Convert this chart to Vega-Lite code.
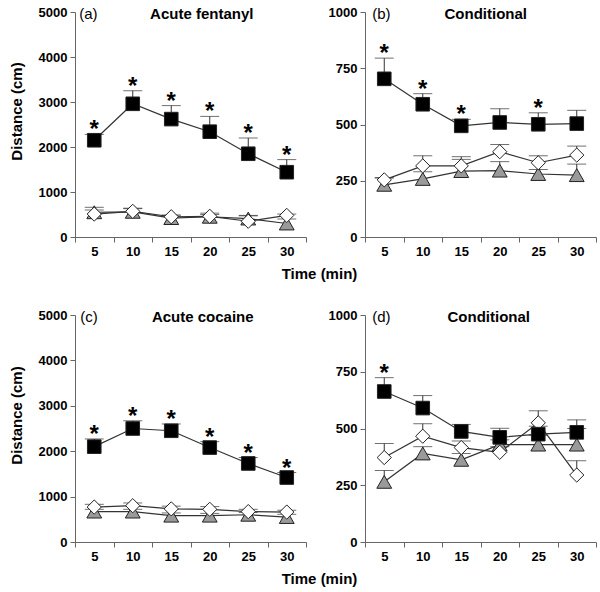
{
  "$schema": "https://vega.github.io/schema/vega-lite/v6.json",
  "padding": {"left": 9, "top": 6, "right": 5, "bottom": 5},
  "background": "#ffffff",
  "datasets": {
    "d": [
      {"p": "a", "t": 5, "g": "tr", "v": 550, "e": 600, "s": 0},
      {"p": "a", "t": 10, "g": "tr", "v": 560, "e": 630, "s": 0},
      {"p": "a", "t": 15, "g": "tr", "v": 420, "e": 470, "s": 0},
      {"p": "a", "t": 20, "g": "tr", "v": 450, "e": 500, "s": 0},
      {"p": "a", "t": 25, "g": "tr", "v": 410, "e": 470, "s": 0},
      {"p": "a", "t": 30, "g": "tr", "v": 300, "e": 400, "s": 0},
      {"p": "a", "t": 5, "g": "di", "v": 510, "e": 660, "s": 0},
      {"p": "a", "t": 10, "g": "di", "v": 570, "e": 640, "s": 0},
      {"p": "a", "t": 15, "g": "di", "v": 450, "e": 490, "s": 0},
      {"p": "a", "t": 20, "g": "di", "v": 460, "e": 530, "s": 0},
      {"p": "a", "t": 25, "g": "di", "v": 350, "e": 480, "s": 0},
      {"p": "a", "t": 30, "g": "di", "v": 480, "e": 510, "s": 0},
      {"p": "a", "t": 5, "g": "sq", "v": 2150, "e": 2280, "s": 1},
      {"p": "a", "t": 10, "g": "sq", "v": 2960, "e": 3250, "s": 1},
      {"p": "a", "t": 15, "g": "sq", "v": 2620, "e": 2920, "s": 1},
      {"p": "a", "t": 20, "g": "sq", "v": 2340, "e": 2680, "s": 1},
      {"p": "a", "t": 25, "g": "sq", "v": 1850, "e": 2200, "s": 1},
      {"p": "a", "t": 30, "g": "sq", "v": 1440, "e": 1720, "s": 1},

      {"p": "b", "t": 5, "g": "tr", "v": 232, "e": 262, "s": 0},
      {"p": "b", "t": 10, "g": "tr", "v": 258, "e": 290, "s": 0},
      {"p": "b", "t": 15, "g": "tr", "v": 293, "e": 345, "s": 0},
      {"p": "b", "t": 20, "g": "tr", "v": 295, "e": 335, "s": 0},
      {"p": "b", "t": 25, "g": "tr", "v": 280, "e": 300, "s": 0},
      {"p": "b", "t": 30, "g": "tr", "v": 275, "e": 324, "s": 0},
      {"p": "b", "t": 5, "g": "di", "v": 254, "e": 264, "s": 0},
      {"p": "b", "t": 10, "g": "di", "v": 316, "e": 361, "s": 0},
      {"p": "b", "t": 15, "g": "di", "v": 316, "e": 357, "s": 0},
      {"p": "b", "t": 20, "g": "di", "v": 379, "e": 411, "s": 0},
      {"p": "b", "t": 25, "g": "di", "v": 330, "e": 361, "s": 0},
      {"p": "b", "t": 30, "g": "di", "v": 364, "e": 404, "s": 0},
      {"p": "b", "t": 5, "g": "sq", "v": 703, "e": 795, "s": 1},
      {"p": "b", "t": 10, "g": "sq", "v": 590, "e": 637, "s": 1},
      {"p": "b", "t": 15, "g": "sq", "v": 494, "e": 523, "s": 1},
      {"p": "b", "t": 20, "g": "sq", "v": 509, "e": 570, "s": 0},
      {"p": "b", "t": 25, "g": "sq", "v": 501, "e": 552, "s": 1},
      {"p": "b", "t": 30, "g": "sq", "v": 504, "e": 563, "s": 0},

      {"p": "c", "t": 5, "g": "tr", "v": 670, "e": 720, "s": 0},
      {"p": "c", "t": 10, "g": "tr", "v": 670, "e": 720, "s": 0},
      {"p": "c", "t": 15, "g": "tr", "v": 580, "e": 640, "s": 0},
      {"p": "c", "t": 20, "g": "tr", "v": 580, "e": 630, "s": 0},
      {"p": "c", "t": 25, "g": "tr", "v": 600, "e": 650, "s": 0},
      {"p": "c", "t": 30, "g": "tr", "v": 550, "e": 610, "s": 0},
      {"p": "c", "t": 5, "g": "di", "v": 770, "e": 830, "s": 0},
      {"p": "c", "t": 10, "g": "di", "v": 800, "e": 860, "s": 0},
      {"p": "c", "t": 15, "g": "di", "v": 730, "e": 790, "s": 0},
      {"p": "c", "t": 20, "g": "di", "v": 720, "e": 780, "s": 0},
      {"p": "c", "t": 25, "g": "di", "v": 670, "e": 720, "s": 0},
      {"p": "c", "t": 30, "g": "di", "v": 660, "e": 700, "s": 0},
      {"p": "c", "t": 5, "g": "sq", "v": 2100, "e": 2270, "s": 1},
      {"p": "c", "t": 10, "g": "sq", "v": 2500, "e": 2670, "s": 1},
      {"p": "c", "t": 15, "g": "sq", "v": 2450, "e": 2600, "s": 1},
      {"p": "c", "t": 20, "g": "sq", "v": 2080, "e": 2210, "s": 1},
      {"p": "c", "t": 25, "g": "sq", "v": 1730, "e": 1860, "s": 1},
      {"p": "c", "t": 30, "g": "sq", "v": 1420, "e": 1530, "s": 1},

      {"p": "d", "t": 5, "g": "tr", "v": 265, "e": 315, "s": 0},
      {"p": "d", "t": 10, "g": "tr", "v": 390, "e": 420, "s": 0},
      {"p": "d", "t": 15, "g": "tr", "v": 362, "e": 390, "s": 0},
      {"p": "d", "t": 20, "g": "tr", "v": 429, "e": 450, "s": 0},
      {"p": "d", "t": 25, "g": "tr", "v": 429, "e": 470, "s": 0},
      {"p": "d", "t": 30, "g": "tr", "v": 429, "e": 500, "s": 0},
      {"p": "d", "t": 5, "g": "di", "v": 372, "e": 434, "s": 0},
      {"p": "d", "t": 10, "g": "di", "v": 466, "e": 521, "s": 0},
      {"p": "d", "t": 15, "g": "di", "v": 416, "e": 445, "s": 0},
      {"p": "d", "t": 20, "g": "di", "v": 395, "e": 420, "s": 0},
      {"p": "d", "t": 25, "g": "di", "v": 525, "e": 578, "s": 0},
      {"p": "d", "t": 30, "g": "di", "v": 295, "e": 358, "s": 0},
      {"p": "d", "t": 5, "g": "sq", "v": 663, "e": 724, "s": 1},
      {"p": "d", "t": 10, "g": "sq", "v": 590, "e": 645, "s": 0},
      {"p": "d", "t": 15, "g": "sq", "v": 487, "e": 518, "s": 0},
      {"p": "d", "t": 20, "g": "sq", "v": 461, "e": 501, "s": 0},
      {"p": "d", "t": 25, "g": "sq", "v": 475, "e": 510, "s": 0},
      {"p": "d", "t": 30, "g": "sq", "v": 483, "e": 538, "s": 0}
    ],
    "lab": [
      {"p": "a", "k": "l", "t": 5, "v": 5000, "txt": "(a)"},
      {"p": "a", "k": "h", "t": 20, "v": 5000, "txt": "Acute fentanyl"},
      {"p": "b", "k": "l", "t": 5, "v": 1000, "txt": "(b)"},
      {"p": "b", "k": "h", "t": 20, "v": 1000, "txt": "Conditional"},
      {"p": "c", "k": "l", "t": 5, "v": 5000, "txt": "(c)"},
      {"p": "c", "k": "h", "t": 20, "v": 5000, "txt": "Acute cocaine"},
      {"p": "d", "k": "l", "t": 5, "v": 1000, "txt": "(d)"},
      {"p": "d", "k": "h", "t": 20, "v": 1000, "txt": "Conditional"}
    ]
  },
  "columns": 2,
  "spacing": {"row": 78, "column": 59},
  "bounds": "flush",
  "concat": [
    {
      "width": 231, "height": 225,
      "layer": [
        {"data": {"name": "d"}, "transform": [{"filter": "datum.p == 'a'"}],
         "mark": {"type": "line", "color": "#333", "strokeWidth": 1.2},
         "encoding": {
           "x": {"field": "t", "type": "ordinal", "scale": {"type": "band", "paddingInner": 0, "paddingOuter": 0},
                 "axis": {"title": "Time (min)", "titleX": 244, "titleY": 36, "titleAlign": "center", "titleBaseline": "middle", "labelAngle": 0, "tickBand": "extent"}},
           "y": {"field": "v", "type": "quantitative", "scale": {"domain": [0, 5000], "nice": false},
                 "axis": {"title": "Distance (cm)", "values": [0, 1000, 2000, 3000, 4000, 5000], "format": "d", "titlePadding": 14, "titleY": 99}},
           "detail": {"field": "g"}}},
        {"data": {"name": "d"}, "transform": [{"filter": "datum.p == 'a'"}],
         "mark": {"type": "rule", "color": "#333", "strokeWidth": 1},
         "encoding": {"x": {"field": "t", "type": "ordinal"}, "y": {"field": "v", "type": "quantitative"}, "y2": {"field": "e"}}},
        {"data": {"name": "d"}, "transform": [{"filter": "datum.p == 'a'"}],
         "mark": {"type": "tick", "color": "#333", "size": 19, "thickness": 1},
         "encoding": {"x": {"field": "t", "type": "ordinal"}, "y": {"field": "e", "type": "quantitative"}}},
        {"data": {"name": "d"}, "transform": [{"filter": "datum.p == 'a'"}],
         "mark": {"type": "point", "filled": true, "stroke": "#222", "strokeWidth": 1, "opacity": 1},
         "encoding": {"x": {"field": "t", "type": "ordinal"}, "y": {"field": "v", "type": "quantitative"},
           "shape": {"field": "g", "type": "nominal", "scale": {"domain": ["tr", "di", "sq"], "range": ["triangle-up", "diamond", "square"]}, "legend": null},
           "fill": {"field": "g", "type": "nominal", "scale": {"domain": ["tr", "di", "sq"], "range": ["#9a9a9a", "#ffffff", "#000000"]}, "legend": null},
           "size": {"field": "g", "type": "ordinal", "scale": {"domain": ["tr", "di", "sq"], "range": [220, 185, 190]}, "legend": null}}},
        {"data": {"name": "d"}, "transform": [{"filter": "datum.p == 'a' && datum.s == 1"}],
         "mark": {"type": "text", "text": "*", "fontSize": 24, "fontWeight": "bold", "font": "Liberation Sans", "baseline": "alphabetic", "dy": 3},
         "encoding": {"x": {"field": "t", "type": "ordinal"}, "y": {"field": "e", "type": "quantitative"}}},
        {"data": {"name": "lab"}, "transform": [{"filter": "datum.p == 'a' && datum.k == 'l'"}],
         "mark": {"type": "text", "fontSize": 15, "font": "Liberation Sans", "align": "left", "baseline": "middle", "dx": -15, "dy": 2},
         "encoding": {"x": {"field": "t", "type": "ordinal"}, "y": {"field": "v", "type": "quantitative"}, "text": {"field": "txt"}}},
        {"data": {"name": "lab"}, "transform": [{"filter": "datum.p == 'a' && datum.k == 'h'"}],
         "mark": {"type": "text", "fontSize": 15, "fontWeight": "bold", "font": "Liberation Sans", "align": "center", "baseline": "middle", "dx": -8, "dy": 2},
         "encoding": {"x": {"field": "t", "type": "ordinal"}, "y": {"field": "v", "type": "quantitative"}, "text": {"field": "txt"}}}
      ]
    },
    {
      "width": 231, "height": 225,
      "layer": [
        {"data": {"name": "d"}, "transform": [{"filter": "datum.p == 'b'"}],
         "mark": {"type": "line", "color": "#333", "strokeWidth": 1.2},
         "encoding": {
           "x": {"field": "t", "type": "ordinal", "scale": {"type": "band", "paddingInner": 0, "paddingOuter": 0},
                 "axis": {"title": null, "labelAngle": 0, "tickBand": "extent"}},
           "y": {"field": "v", "type": "quantitative", "scale": {"domain": [0, 1000], "nice": false},
                 "axis": {"title": null, "values": [0, 250, 500, 750, 1000], "format": "d"}},
           "detail": {"field": "g"}}},
        {"data": {"name": "d"}, "transform": [{"filter": "datum.p == 'b'"}],
         "mark": {"type": "rule", "color": "#333", "strokeWidth": 1},
         "encoding": {"x": {"field": "t", "type": "ordinal"}, "y": {"field": "v", "type": "quantitative"}, "y2": {"field": "e"}}},
        {"data": {"name": "d"}, "transform": [{"filter": "datum.p == 'b'"}],
         "mark": {"type": "tick", "color": "#333", "size": 19, "thickness": 1},
         "encoding": {"x": {"field": "t", "type": "ordinal"}, "y": {"field": "e", "type": "quantitative"}}},
        {"data": {"name": "d"}, "transform": [{"filter": "datum.p == 'b'"}],
         "mark": {"type": "point", "filled": true, "stroke": "#222", "strokeWidth": 1, "opacity": 1},
         "encoding": {"x": {"field": "t", "type": "ordinal"}, "y": {"field": "v", "type": "quantitative"},
           "shape": {"field": "g", "type": "nominal", "scale": {"domain": ["tr", "di", "sq"], "range": ["triangle-up", "diamond", "square"]}, "legend": null},
           "fill": {"field": "g", "type": "nominal", "scale": {"domain": ["tr", "di", "sq"], "range": ["#9a9a9a", "#ffffff", "#000000"]}, "legend": null},
           "size": {"field": "g", "type": "ordinal", "scale": {"domain": ["tr", "di", "sq"], "range": [220, 185, 190]}, "legend": null}}},
        {"data": {"name": "d"}, "transform": [{"filter": "datum.p == 'b' && datum.s == 1"}],
         "mark": {"type": "text", "text": "*", "fontSize": 24, "fontWeight": "bold", "font": "Liberation Sans", "baseline": "alphabetic", "dy": 3},
         "encoding": {"x": {"field": "t", "type": "ordinal"}, "y": {"field": "e", "type": "quantitative"}}},
        {"data": {"name": "lab"}, "transform": [{"filter": "datum.p == 'b' && datum.k == 'l'"}],
         "mark": {"type": "text", "fontSize": 15, "font": "Liberation Sans", "align": "left", "baseline": "middle", "dx": -12, "dy": 2},
         "encoding": {"x": {"field": "t", "type": "ordinal"}, "y": {"field": "v", "type": "quantitative"}, "text": {"field": "txt"}}},
        {"data": {"name": "lab"}, "transform": [{"filter": "datum.p == 'b' && datum.k == 'h'"}],
         "mark": {"type": "text", "fontSize": 15, "fontWeight": "bold", "font": "Liberation Sans", "align": "center", "baseline": "middle", "dx": -14, "dy": 2},
         "encoding": {"x": {"field": "t", "type": "ordinal"}, "y": {"field": "v", "type": "quantitative"}, "text": {"field": "txt"}}}
      ]
    },
    {
      "width": 231, "height": 227,
      "layer": [
        {"data": {"name": "d"}, "transform": [{"filter": "datum.p == 'c'"}],
         "mark": {"type": "line", "color": "#333", "strokeWidth": 1.2},
         "encoding": {
           "x": {"field": "t", "type": "ordinal", "scale": {"type": "band", "paddingInner": 0, "paddingOuter": 0},
                 "axis": {"title": "Time (min)", "titleX": 244, "titleY": 36, "titleAlign": "center", "titleBaseline": "middle", "labelAngle": 0, "tickBand": "extent"}},
           "y": {"field": "v", "type": "quantitative", "scale": {"domain": [0, 5000], "nice": false},
                 "axis": {"title": "Distance (cm)", "values": [0, 1000, 2000, 3000, 4000, 5000], "format": "d", "titlePadding": 14, "titleY": 100}},
           "detail": {"field": "g"}}},
        {"data": {"name": "d"}, "transform": [{"filter": "datum.p == 'c'"}],
         "mark": {"type": "rule", "color": "#333", "strokeWidth": 1},
         "encoding": {"x": {"field": "t", "type": "ordinal"}, "y": {"field": "v", "type": "quantitative"}, "y2": {"field": "e"}}},
        {"data": {"name": "d"}, "transform": [{"filter": "datum.p == 'c'"}],
         "mark": {"type": "tick", "color": "#333", "size": 19, "thickness": 1},
         "encoding": {"x": {"field": "t", "type": "ordinal"}, "y": {"field": "e", "type": "quantitative"}}},
        {"data": {"name": "d"}, "transform": [{"filter": "datum.p == 'c'"}],
         "mark": {"type": "point", "filled": true, "stroke": "#222", "strokeWidth": 1, "opacity": 1},
         "encoding": {"x": {"field": "t", "type": "ordinal"}, "y": {"field": "v", "type": "quantitative"},
           "shape": {"field": "g", "type": "nominal", "scale": {"domain": ["tr", "di", "sq"], "range": ["triangle-up", "diamond", "square"]}, "legend": null},
           "fill": {"field": "g", "type": "nominal", "scale": {"domain": ["tr", "di", "sq"], "range": ["#9a9a9a", "#ffffff", "#000000"]}, "legend": null},
           "size": {"field": "g", "type": "ordinal", "scale": {"domain": ["tr", "di", "sq"], "range": [220, 185, 190]}, "legend": null}}},
        {"data": {"name": "d"}, "transform": [{"filter": "datum.p == 'c' && datum.s == 1"}],
         "mark": {"type": "text", "text": "*", "fontSize": 24, "fontWeight": "bold", "font": "Liberation Sans", "baseline": "alphabetic", "dy": 3},
         "encoding": {"x": {"field": "t", "type": "ordinal"}, "y": {"field": "e", "type": "quantitative"}}},
        {"data": {"name": "lab"}, "transform": [{"filter": "datum.p == 'c' && datum.k == 'l'"}],
         "mark": {"type": "text", "fontSize": 15, "font": "Liberation Sans", "align": "left", "baseline": "middle", "dx": -14, "dy": 2},
         "encoding": {"x": {"field": "t", "type": "ordinal"}, "y": {"field": "v", "type": "quantitative"}, "text": {"field": "txt"}}},
        {"data": {"name": "lab"}, "transform": [{"filter": "datum.p == 'c' && datum.k == 'h'"}],
         "mark": {"type": "text", "fontSize": 15, "fontWeight": "bold", "font": "Liberation Sans", "align": "center", "baseline": "middle", "dx": -7, "dy": 2},
         "encoding": {"x": {"field": "t", "type": "ordinal"}, "y": {"field": "v", "type": "quantitative"}, "text": {"field": "txt"}}}
      ]
    },
    {
      "width": 231, "height": 227,
      "layer": [
        {"data": {"name": "d"}, "transform": [{"filter": "datum.p == 'd'"}],
         "mark": {"type": "line", "color": "#333", "strokeWidth": 1.2},
         "encoding": {
           "x": {"field": "t", "type": "ordinal", "scale": {"type": "band", "paddingInner": 0, "paddingOuter": 0},
                 "axis": {"title": null, "labelAngle": 0, "tickBand": "extent"}},
           "y": {"field": "v", "type": "quantitative", "scale": {"domain": [0, 1000], "nice": false},
                 "axis": {"title": null, "values": [0, 250, 500, 750, 1000], "format": "d"}},
           "detail": {"field": "g"}}},
        {"data": {"name": "d"}, "transform": [{"filter": "datum.p == 'd'"}],
         "mark": {"type": "rule", "color": "#333", "strokeWidth": 1},
         "encoding": {"x": {"field": "t", "type": "ordinal"}, "y": {"field": "v", "type": "quantitative"}, "y2": {"field": "e"}}},
        {"data": {"name": "d"}, "transform": [{"filter": "datum.p == 'd'"}],
         "mark": {"type": "tick", "color": "#333", "size": 19, "thickness": 1},
         "encoding": {"x": {"field": "t", "type": "ordinal"}, "y": {"field": "e", "type": "quantitative"}}},
        {"data": {"name": "d"}, "transform": [{"filter": "datum.p == 'd'"}],
         "mark": {"type": "point", "filled": true, "stroke": "#222", "strokeWidth": 1, "opacity": 1},
         "encoding": {"x": {"field": "t", "type": "ordinal"}, "y": {"field": "v", "type": "quantitative"},
           "shape": {"field": "g", "type": "nominal", "scale": {"domain": ["tr", "di", "sq"], "range": ["triangle-up", "diamond", "square"]}, "legend": null},
           "fill": {"field": "g", "type": "nominal", "scale": {"domain": ["tr", "di", "sq"], "range": ["#9a9a9a", "#ffffff", "#000000"]}, "legend": null},
           "size": {"field": "g", "type": "ordinal", "scale": {"domain": ["tr", "di", "sq"], "range": [220, 185, 190]}, "legend": null}}},
        {"data": {"name": "d"}, "transform": [{"filter": "datum.p == 'd' && datum.s == 1"}],
         "mark": {"type": "text", "text": "*", "fontSize": 24, "fontWeight": "bold", "font": "Liberation Sans", "baseline": "alphabetic", "dy": 3},
         "encoding": {"x": {"field": "t", "type": "ordinal"}, "y": {"field": "e", "type": "quantitative"}}},
        {"data": {"name": "lab"}, "transform": [{"filter": "datum.p == 'd' && datum.k == 'l'"}],
         "mark": {"type": "text", "fontSize": 15, "font": "Liberation Sans", "align": "left", "baseline": "middle", "dx": -12, "dy": 2},
         "encoding": {"x": {"field": "t", "type": "ordinal"}, "y": {"field": "v", "type": "quantitative"}, "text": {"field": "txt"}}},
        {"data": {"name": "lab"}, "transform": [{"filter": "datum.p == 'd' && datum.k == 'h'"}],
         "mark": {"type": "text", "fontSize": 15, "fontWeight": "bold", "font": "Liberation Sans", "align": "center", "baseline": "middle", "dx": -11, "dy": 2},
         "encoding": {"x": {"field": "t", "type": "ordinal"}, "y": {"field": "v", "type": "quantitative"}, "text": {"field": "txt"}}}
      ]
    }
  ],
  "config": {
    "view": {"stroke": null},
    "axis": {
      "grid": false,
      "domainColor": "#666",
      "tickColor": "#666",
      "labelFont": "Liberation Sans",
      "labelFontWeight": "bold",
      "labelFontSize": 13,
      "labelColor": "#000",
      "titleFont": "Liberation Sans",
      "titleFontSize": 15,
      "titleFontWeight": "bold",
      "titleColor": "#000",
      "tickSize": 5,
      "labelPadding": 3
    }
  }
}
